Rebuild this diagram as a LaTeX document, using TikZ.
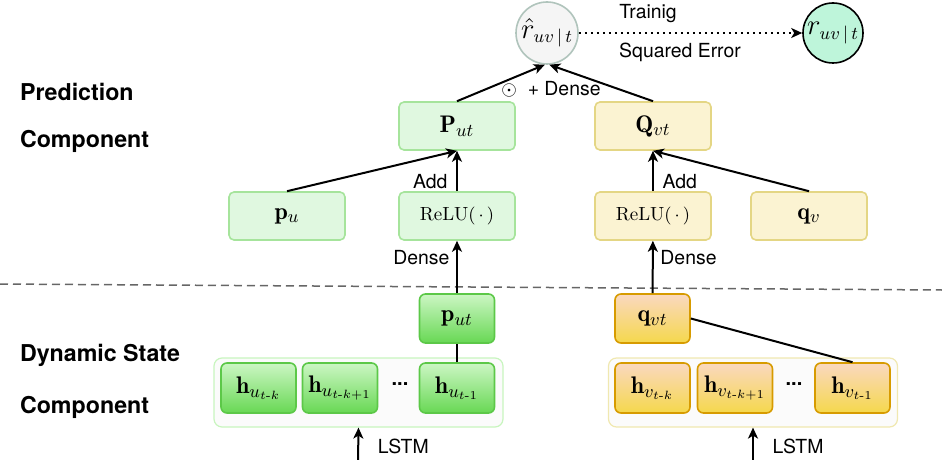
\documentclass[tikz,border=0pt]{standalone}
\usepackage{amsmath}
\usepackage{amssymb}
\usepackage{fontspec}
\newfontfamily\helv{TeX Gyre Heros}
\usetikzlibrary{arrows.meta}

\definecolor{lgfill}{RGB}{224,248,224}
\definecolor{lgline}{RGB}{166,228,156}
\definecolor{lyfill}{RGB}{251,243,210}
\definecolor{lyline}{RGB}{228,214,132}
\definecolor{gtop}{RGB}{204,246,196}
\definecolor{gbot}{RGB}{104,216,84}
\definecolor{gline}{RGB}{92,200,72}
\definecolor{otop}{RGB}{250,216,192}
\definecolor{obot}{RGB}{245,216,76}
\definecolor{oline}{RGB}{215,155,0}
\definecolor{ufrm}{RGB}{200,245,190}
\definecolor{vfrm}{RGB}{240,232,176}
\definecolor{frmfill}{RGB}{251,251,251}
\definecolor{hatfill}{RGB}{245,245,245}
\definecolor{hatline}{RGB}{176,196,188}
\definecolor{mint}{RGB}{190,245,218}

% subscripts set larger than \scriptstyle
\newcommand{\bsub}[1]{\mbox{\fontsize{9}{10}\selectfont$#1$}}

\tikzset{
  box/.style={draw, rounded corners=2.5pt, line width=0.8pt, minimum width=58pt,
    minimum height=24pt, inner sep=0pt, font=\fontsize{12}{14}\selectfont},
  ubox/.style={box, fill=lgfill, draw=lgline},
  vbox/.style={box, fill=lyfill, draw=lyline},
  hbox/.style={draw, rounded corners=3pt, line width=0.8pt, minimum width=37.5pt,
    minimum height=25pt, inner sep=0pt, font=\fontsize{12}{14}\selectfont},
  uh/.style={hbox, top color=gtop, bottom color=gbot, draw=gline},
  vh/.style={hbox, top color=otop, bottom color=obot, draw=oline},
  groupbox/.style={draw, rounded corners=4pt, line width=0.6pt, fill=frmfill,
    minimum width=144.5pt, minimum height=34.5pt, inner sep=0pt},
  rnode/.style={circle, line width=0.8pt, inner sep=0pt, font=\fontsize{15}{17}\selectfont},
  arr/.style={-{Stealth[length=5.5pt,width=5pt,inset=1.5pt]}, line width=1pt},
  lbl/.style={font=\helv\fontsize{9.7}{11}\selectfont},
  side/.style={font=\helv\bfseries\fontsize{11.6}{14}\selectfont, anchor=west},
}

\begin{document}
\begin{tikzpicture}[x=0.5pt, y=-0.5pt]
    \useasboundingbox (0,0) rectangle (942,460);

    % left captions
    \node[side] (cap1) at (13,92) {Prediction};
    \node[side] (cap2) at (13,141) {Component};
    \node[side] (cap3) at (13,355) {Dynamic State};
    \node[side] (cap4) at (13,407) {Component};

    \draw[dashed, dash pattern=on 4pt off 2.5pt, line width=0.75pt, black!60] (0,284) -- (942,290);

    % rating nodes
    \node[rnode, draw=hatline, fill=hatfill, minimum size=31pt] (rhat) at (547,33)
      {$\hat{r}_{\bsub{uv\,|\,t}}$};
    \node[rnode, draw=black, fill=mint, minimum size=30pt] (r) at (833,33)
      {$r_{\bsub{uv\,|\,t}}$};
    \draw[arr, dotted, line width=1.1pt] (rhat) -- (r);
    \node[lbl] (trn) at (648,14) {Trainig};
    \node[lbl] (sqe) at (680,52) {Squared Error};

    % prediction component
    \node[ubox] (Put) at (457,126) {$\mathbf{P}_{\bsub{ut}}$};
    \node[vbox] (Qvt) at (653,126) {$\mathbf{Q}_{\bsub{vt}}$};
    \node[ubox] (pu) at (287,216) {$\mathbf{p}_{\bsub{u}}$};
    \node[ubox, font=\fontsize{9.5}{11}\selectfont] (reluU) at (457,216) {$\mathrm{ReLU}(\,\cdot\,)$};
    \node[vbox, font=\fontsize{9.5}{11}\selectfont] (reluV) at (653,216) {$\mathrm{ReLU}(\,\cdot\,)$};
    \node[vbox] (qv) at (809,216) {$\mathbf{q}_{\bsub{v}}$};

    \draw[arr] (Put.north) -- (rhat.266);
    \draw[arr] (Qvt.north) -- (rhat.274);
    \node[lbl] (dot) at (551,89) {$\odot$\ \ + Dense};
    \draw[arr] (pu.north) -- (Put.south);
    \draw[arr] (reluU) -- (Put) node[lbl, pos=0.25, left=1pt] (addU) {Add};
    \draw[arr] (reluV) -- (Qvt) node[lbl, pos=0.25, right=1pt] (addV) {Add};
    \draw[arr] (qv.north) -- (Qvt.south);

    % dynamic state component
    \node[groupbox, draw=ufrm] (frmU) at (358.5,392.5) {};
    \node[groupbox, draw=vfrm] (frmV) at (753,392.5) {};

    \node[uh, minimum height=24.5pt] (put) at (457,318.5) {$\mathbf{p}_{\bsub{ut}}$};
    \node[vh, minimum height=24.5pt] (qvt) at (652.5,318.5) {$\mathbf{q}_{\bsub{vt}}$};

    \node[uh] (hu1) at (258.5,388) {$\mathbf{h}_{\bsub{u_{t\text{-}k}}}$};
    \node[uh] (hu2) at (340,388) {$\mathbf{h}_{\bsub{u_{t\text{-}k+1}}}$};
    \node[font=\helv\bfseries] (duts) at (400,384) {...};
    \node[uh] (hu3) at (457,388) {$\mathbf{h}_{\bsub{u_{t\text{-}1}}}$};

    \node[vh] (hv1) at (652.5,388) {$\mathbf{h}_{\bsub{v_{t\text{-}k}}}$};
    \node[vh] (hv2) at (735,388) {$\mathbf{h}_{\bsub{v_{t\text{-}k+1}}}$};
    \node[font=\helv\bfseries] (dvts) at (794,384) {...};
    \node[vh] (hv3) at (852.5,388) {$\mathbf{h}_{\bsub{v_{t\text{-}1}}}$};

    \draw[arr] (put) -- (reluU) node[lbl, pos=0.68, left=0pt] (dnsU) {Dense};
    \draw[arr] (qvt) -- (reluV) node[lbl, pos=0.68, right=0pt] (dnsV) {Dense};
    \draw[line width=1pt] (hu3) -- (put);
    \draw[line width=1pt] (qvt.east) -- (hv3.north);

    \coordinate (inU) at (358,462);
    \coordinate (inV) at (753,462);
    \draw[arr] (inU) -- (frmU.south) node[lbl, pos=0.45, right=6pt] (lstmU) {LSTM};
    \draw[arr] (inV) -- (frmV.south) node[lbl, pos=0.45, right=6pt] (lstmV) {LSTM};
\end{tikzpicture}
\end{document}
